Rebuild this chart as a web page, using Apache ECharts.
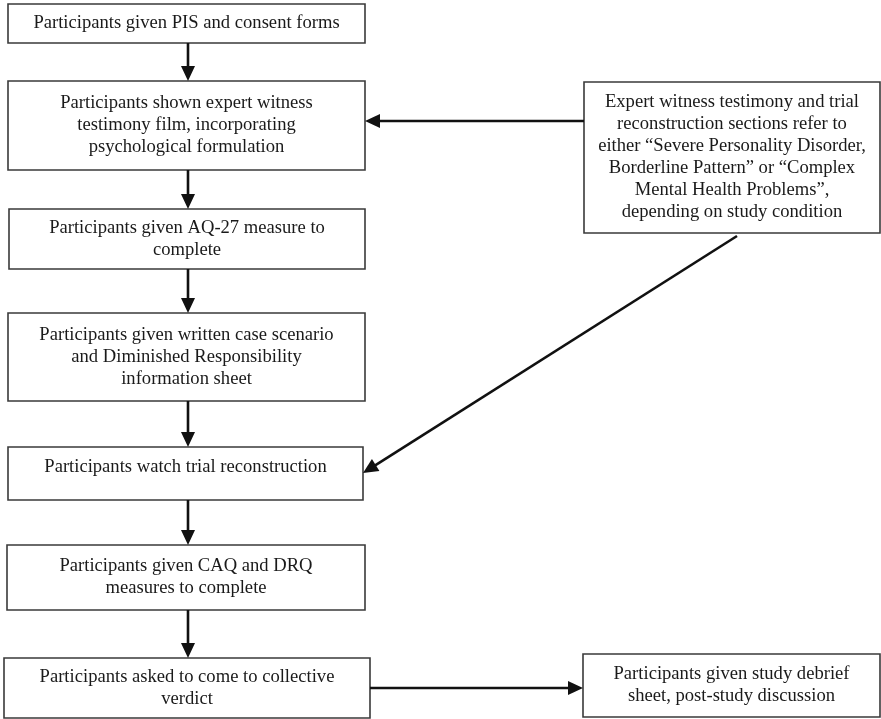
<!DOCTYPE html>
<html>
<head>
<meta charset="utf-8">
<script src="https://cdn.jsdelivr.net/npm/echarts@6/dist/echarts.min.js"></script>
<style>
html,body{margin:0;padding:0;background:#fff;}
#chart{width:881px;height:719px;}
</style>
</head>
<body>
<div id="chart"></div>
<script>
// ---- Data: flowchart content ----
var stepIds = ['s1','s2','s3','s4','s5','s6','s7'];
var stepTexts = [
  'Participants given PIS and consent forms',
  'Participants shown expert witness\ntestimony film, incorporating\npsychological formulation',
  'Participants given AQ-27 measure to\ncomplete',
  'Participants given written case scenario\nand Diminished Responsibility\ninformation sheet',
  'Participants watch trial reconstruction',
  'Participants given CAQ and DRQ\nmeasures to complete',
  'Participants asked to come to collective\nverdict'
];
var sideIds = ['note','debrief'];
var sideTexts = [
  'Expert witness testimony and trial\nreconstruction sections refer to\neither \u201cSevere Personality Disorder,\nBorderline Pattern\u201d or \u201cComplex\nMental Health Problems\u201d,\ndepending on study condition',
  'Participants given study debrief\nsheet, post-study discussion'
];
// links: [from, to]
var linkFrom = ['s1','s2','s3','s4','s5','s6','note','note','s7'];
var linkTo   = ['s2','s3','s4','s5','s6','s7','s2','s5','debrief'];

// ---- Layout (positions in page pixel units, kept apart from the data) ----
var layout = {
  boxes: {
    s1: [8, 4, 365, 43],
    s2: [8, 81, 365, 170],
    s3: [9, 209, 365, 269],
    s4: [8, 313, 365, 401],
    s5: [8, 447, 363, 500],
    s6: [7, 545, 365, 610],
    s7: [4, 658, 370, 718],
    note: [584, 82, 880, 233],
    debrief: [583, 654, 880, 717]
  },
  textShift: { s5: -6 },
  columnX: 188,
  // explicit ports for non-vertical links
  ports: {
    'note>s2': [[584, 121], [365, 121]],
    'note>s5': [[737, 236], [363, 473]],
    's7>debrief': [[370, 688], [583, 688]]
  }
};

var allIds = stepIds.concat(sideIds);
var allTexts = stepTexts.concat(sideTexts);

var boxData = allIds.map(function (id, i) {
  var b = layout.boxes[id];
  return { value: [b[0], b[1], b[2], b[3]], text: allTexts[i], shift: layout.textShift[id] || 0 };
});

var linkData = linkFrom.map(function (f, i) {
  var t = linkTo[i];
  var key = f + '>' + t;
  var p = layout.ports[key];
  if (!p) {
    var a = layout.boxes[f], b = layout.boxes[t];
    var cx = layout.columnX;
    p = [[cx, a[3]], [cx, b[1]]];
  }
  return [p[0][0], p[0][1], p[1][0], p[1][1]];
});

var chart = echarts.init(document.getElementById('chart'), null, { renderer: 'canvas' });

var option = {
  backgroundColor: '#ffffff',
  animation: false,
  grid: { left: 0, right: 0, top: 0, bottom: 0 },
  xAxis: { type: 'value', min: 0, max: 881, show: false },
  yAxis: { type: 'value', min: 0, max: 719, inverse: true, show: false },
  series: [
    {
      type: 'custom',
      coordinateSystem: 'cartesian2d',
      data: boxData,
      silent: true,
      renderItem: function (params, api) {
        var p0 = api.coord([api.value(0), api.value(1)]);
        var p1 = api.coord([api.value(2), api.value(3)]);
        var item = boxData[params.dataIndex];
        return {
          type: 'group',
          children: [
            {
              type: 'rect',
              shape: { x: p0[0], y: p0[1], width: p1[0] - p0[0], height: p1[1] - p0[1] },
              style: { fill: '#ffffff', stroke: '#3a3a3a', lineWidth: 1.6 }
            },
            {
              type: 'text',
              x: (p0[0] + p1[0]) / 2,
              y: (p0[1] + p1[1]) / 2 + item.shift,
              style: {
                text: item.text,
                fill: '#1a1a1a',
                fontFamily: 'Liberation Serif',
                fontSize: 18.6,
                lineHeight: 22,
                align: 'center',
                verticalAlign: 'middle'
              }
            }
          ]
        };
      }
    },
    {
      type: 'custom',
      coordinateSystem: 'cartesian2d',
      data: linkData,
      silent: true,
      renderItem: function (params, api) {
        var a = api.coord([api.value(0), api.value(1)]);
        var b = api.coord([api.value(2), api.value(3)]);
        var dx = b[0] - a[0], dy = b[1] - a[1];
        var len = Math.sqrt(dx * dx + dy * dy);
        var ux = dx / len, uy = dy / len;
        var headL = 15, headW = 7;
        var base = [b[0] - ux * headL, b[1] - uy * headL];
        var nx = -uy, ny = ux;
        return {
          type: 'group',
          children: [
            {
              type: 'line',
              shape: { x1: a[0], y1: a[1], x2: base[0] + ux * 2, y2: base[1] + uy * 2 },
              style: { stroke: '#111111', lineWidth: 2.6 }
            },
            {
              type: 'polygon',
              shape: {
                points: [
                  [b[0], b[1]],
                  [base[0] + nx * headW, base[1] + ny * headW],
                  [base[0] - nx * headW, base[1] - ny * headW]
                ]
              },
              style: { fill: '#111111' }
            }
          ]
        };
      }
    }
  ]
};
chart.setOption(option);
</script>
</body>
</html>
